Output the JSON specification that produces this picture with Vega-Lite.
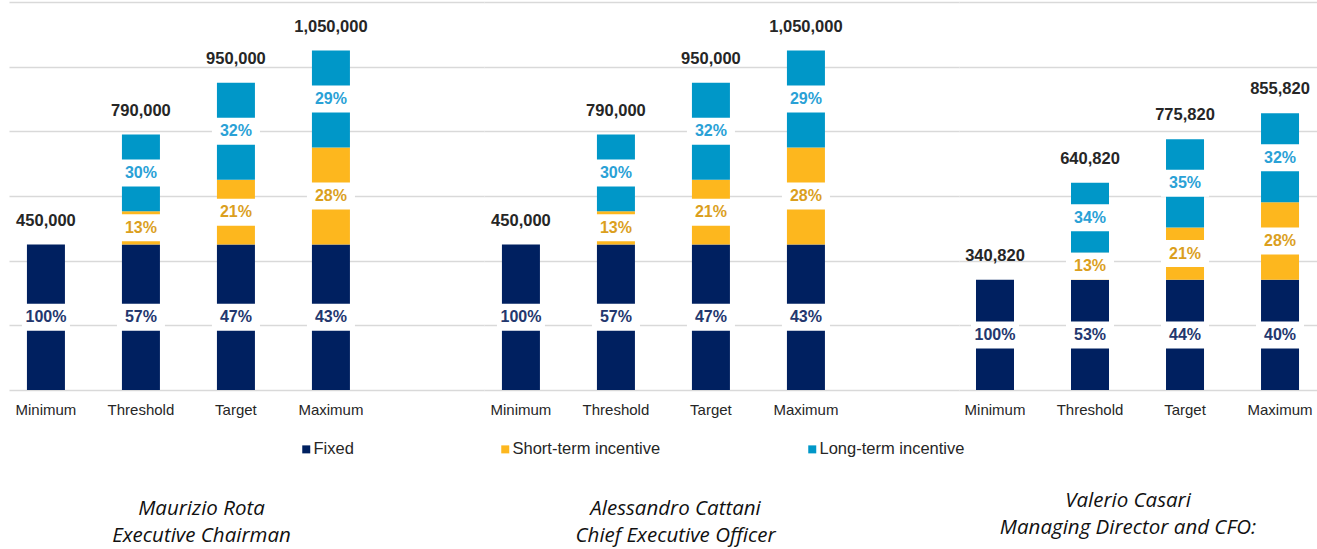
{
  "$schema": "https://vega.github.io/schema/vega-lite/v6.json",
  "background": "white",
  "padding": {"left": 9, "top": 2, "right": 0, "bottom": 0},
  "spacing": 0,
  "datasets": {
    "pay": [
      {"person": "Maurizio Rota", "level": "Minimum", "component": "Fixed", "rank": 1, "value": 450000, "pct": 1.00},
      {"person": "Maurizio Rota", "level": "Threshold", "component": "Fixed", "rank": 1, "value": 450000, "pct": 0.57},
      {"person": "Maurizio Rota", "level": "Threshold", "component": "Short-term incentive", "rank": 2, "value": 103000, "pct": 0.13},
      {"person": "Maurizio Rota", "level": "Threshold", "component": "Long-term incentive", "rank": 3, "value": 237000, "pct": 0.30},
      {"person": "Maurizio Rota", "level": "Target", "component": "Fixed", "rank": 1, "value": 450000, "pct": 0.47},
      {"person": "Maurizio Rota", "level": "Target", "component": "Short-term incentive", "rank": 2, "value": 200000, "pct": 0.21},
      {"person": "Maurizio Rota", "level": "Target", "component": "Long-term incentive", "rank": 3, "value": 300000, "pct": 0.32},
      {"person": "Maurizio Rota", "level": "Maximum", "component": "Fixed", "rank": 1, "value": 450000, "pct": 0.43},
      {"person": "Maurizio Rota", "level": "Maximum", "component": "Short-term incentive", "rank": 2, "value": 300000, "pct": 0.28},
      {"person": "Maurizio Rota", "level": "Maximum", "component": "Long-term incentive", "rank": 3, "value": 300000, "pct": 0.29},
      {"person": "Alessandro Cattani", "level": "Minimum", "component": "Fixed", "rank": 1, "value": 450000, "pct": 1.00},
      {"person": "Alessandro Cattani", "level": "Threshold", "component": "Fixed", "rank": 1, "value": 450000, "pct": 0.57},
      {"person": "Alessandro Cattani", "level": "Threshold", "component": "Short-term incentive", "rank": 2, "value": 103000, "pct": 0.13},
      {"person": "Alessandro Cattani", "level": "Threshold", "component": "Long-term incentive", "rank": 3, "value": 237000, "pct": 0.30},
      {"person": "Alessandro Cattani", "level": "Target", "component": "Fixed", "rank": 1, "value": 450000, "pct": 0.47},
      {"person": "Alessandro Cattani", "level": "Target", "component": "Short-term incentive", "rank": 2, "value": 200000, "pct": 0.21},
      {"person": "Alessandro Cattani", "level": "Target", "component": "Long-term incentive", "rank": 3, "value": 300000, "pct": 0.32},
      {"person": "Alessandro Cattani", "level": "Maximum", "component": "Fixed", "rank": 1, "value": 450000, "pct": 0.43},
      {"person": "Alessandro Cattani", "level": "Maximum", "component": "Short-term incentive", "rank": 2, "value": 300000, "pct": 0.28},
      {"person": "Alessandro Cattani", "level": "Maximum", "component": "Long-term incentive", "rank": 3, "value": 300000, "pct": 0.29},
      {"person": "Valerio Casari", "level": "Minimum", "component": "Fixed", "rank": 1, "value": 340820, "pct": 1.00},
      {"person": "Valerio Casari", "level": "Threshold", "component": "Fixed", "rank": 1, "value": 340820, "pct": 0.53},
      {"person": "Valerio Casari", "level": "Threshold", "component": "Short-term incentive", "rank": 2, "value": 84000, "pct": 0.13},
      {"person": "Valerio Casari", "level": "Threshold", "component": "Long-term incentive", "rank": 3, "value": 216000, "pct": 0.34},
      {"person": "Valerio Casari", "level": "Target", "component": "Fixed", "rank": 1, "value": 340820, "pct": 0.44},
      {"person": "Valerio Casari", "level": "Target", "component": "Short-term incentive", "rank": 2, "value": 162000, "pct": 0.21},
      {"person": "Valerio Casari", "level": "Target", "component": "Long-term incentive", "rank": 3, "value": 273000, "pct": 0.35},
      {"person": "Valerio Casari", "level": "Maximum", "component": "Fixed", "rank": 1, "value": 340820, "pct": 0.40},
      {"person": "Valerio Casari", "level": "Maximum", "component": "Short-term incentive", "rank": 2, "value": 240000, "pct": 0.28},
      {"person": "Valerio Casari", "level": "Maximum", "component": "Long-term incentive", "rank": 3, "value": 275000, "pct": 0.32}
    ]
  },
  "data": {"name": "pay"},
  "resolve": {"scale": {"color": "shared"}, "legend": {"color": "shared"}},
  "hconcat": [
    {
      "width": 475,
      "height": 388,
      "title": {"text": ["Maurizio Rota", "Executive Chairman"], "orient": "bottom", "anchor": "middle", "offset": 82, "dx": -45},
      "transform": [{"filter": "datum.person === 'Maurizio Rota'"}],
      "encoding": {
        "x": {"field": "level", "type": "nominal", "sort": ["Minimum", "Threshold", "Target", "Maximum"], "title": null,
              "scale": {"paddingInner": 0.6, "paddingOuter": 0.8, "align": 0.118}}
      },
      "layer": [
        {
          "mark": {"type": "bar"},
          "encoding": {
            "y": {"field": "value", "type": "quantitative", "stack": "zero", "title": null, "scale": {"domain": [0, 1200000], "nice": false},
                  "axis": {"values": [0, 200000, 400000, 600000, 800000, 1000000, 1200000]}},
            "color": {"field": "component", "type": "nominal",
                      "scale": {"domain": ["Fixed", "Short-term incentive", "Long-term incentive"], "range": ["#002060", "#FDB71E", "#0097C8"]},
                      "legend": {"title": null, "orient": "none", "legendX": 289, "legendY": 439, "direction": "horizontal", "columnPadding": 143, "symbolType": "square", "symbolSize": 64, "symbolStrokeWidth": 0, "labelFont": "Liberation Sans", "labelFontSize": 16.5, "labelColor": "#262626", "labelOffset": -1}},
            "order": {"field": "rank", "type": "quantitative", "sort": "ascending"}
          }
        },
        {
          "transform": [
            {"stack": "value", "groupby": ["level"], "sort": [{"field": "rank", "order": "ascending"}], "as": ["v0", "v1"]},
            {"fold": ["v0", "v1"], "as": ["edge", "v"]}
          ],
          "mark": {"type": "tick", "color": "white", "thickness": 27, "size": 48, "opacity": 1},
          "encoding": {
            "y": {"field": "v", "aggregate": "mean", "type": "quantitative", "title": null, "scale": {"domain": [0, 1200000], "nice": false},
                  "axis": {"values": [0, 200000, 400000, 600000, 800000, 1000000, 1200000]}},
            "detail": {"field": "component"}
          }
        },
        {
          "transform": [
            {"stack": "value", "groupby": ["level"], "sort": [{"field": "rank", "order": "ascending"}], "as": ["v0", "v1"]},
            {"fold": ["v0", "v1"], "as": ["edge", "v"]}
          ],
          "mark": {"type": "text", "font": "Liberation Sans", "fontWeight": "bold", "fontSize": 16, "baseline": "middle"},
          "encoding": {
            "y": {"field": "v", "aggregate": "mean", "type": "quantitative", "title": null, "scale": {"domain": [0, 1200000], "nice": false},
                  "axis": {"values": [0, 200000, 400000, 600000, 800000, 1000000, 1200000]}},
            "detail": {"field": "component"},
            "text": {"field": "pct", "type": "quantitative", "format": ".0%"},
            "color": {"condition": [{"test": "datum.component === 'Fixed'", "value": "#23376E"}, {"test": "datum.component === 'Short-term incentive'", "value": "#DB9F1E"}], "value": "#2AA1D6"}
          }
        },
        {
          "mark": {"type": "text", "font": "Liberation Sans", "fontWeight": "bold", "fontSize": 16.5, "baseline": "middle", "dy": -24, "color": "#262626"},
          "encoding": {
            "y": {"field": "value", "aggregate": "sum", "type": "quantitative", "title": null, "scale": {"domain": [0, 1200000], "nice": false},
                  "axis": {"values": [0, 200000, 400000, 600000, 800000, 1000000, 1200000]}},
            "text": {"field": "value", "aggregate": "sum", "type": "quantitative", "format": ","}
          }
        }
      ]
    },
    {
      "width": 475,
      "height": 388,
      "title": {"text": ["Alessandro Cattani", "Chief Executive Officer"], "orient": "bottom", "anchor": "middle", "offset": 82, "dx": -46},
      "transform": [{"filter": "datum.person === 'Alessandro Cattani'"}],
      "encoding": {
        "x": {"field": "level", "type": "nominal", "sort": ["Minimum", "Threshold", "Target", "Maximum"], "title": null,
              "scale": {"paddingInner": 0.6, "paddingOuter": 0.8, "align": 0.118}}
      },
      "layer": [
        {
          "mark": {"type": "bar"},
          "encoding": {
            "y": {"field": "value", "type": "quantitative", "stack": "zero", "title": null, "scale": {"domain": [0, 1200000], "nice": false},
                  "axis": {"values": [0, 200000, 400000, 600000, 800000, 1000000, 1200000]}},
            "color": {"field": "component", "type": "nominal",
                      "scale": {"domain": ["Fixed", "Short-term incentive", "Long-term incentive"], "range": ["#002060", "#FDB71E", "#0097C8"]},
                      "legend": {"title": null, "orient": "none", "legendX": 289, "legendY": 439, "direction": "horizontal", "columnPadding": 143, "symbolType": "square", "symbolSize": 64, "symbolStrokeWidth": 0, "labelFont": "Liberation Sans", "labelFontSize": 16.5, "labelColor": "#262626", "labelOffset": -1}},
            "order": {"field": "rank", "type": "quantitative", "sort": "ascending"}
          }
        },
        {
          "transform": [
            {"stack": "value", "groupby": ["level"], "sort": [{"field": "rank", "order": "ascending"}], "as": ["v0", "v1"]},
            {"fold": ["v0", "v1"], "as": ["edge", "v"]}
          ],
          "mark": {"type": "tick", "color": "white", "thickness": 27, "size": 48, "opacity": 1},
          "encoding": {
            "y": {"field": "v", "aggregate": "mean", "type": "quantitative", "title": null, "scale": {"domain": [0, 1200000], "nice": false},
                  "axis": {"values": [0, 200000, 400000, 600000, 800000, 1000000, 1200000]}},
            "detail": {"field": "component"}
          }
        },
        {
          "transform": [
            {"stack": "value", "groupby": ["level"], "sort": [{"field": "rank", "order": "ascending"}], "as": ["v0", "v1"]},
            {"fold": ["v0", "v1"], "as": ["edge", "v"]}
          ],
          "mark": {"type": "text", "font": "Liberation Sans", "fontWeight": "bold", "fontSize": 16, "baseline": "middle"},
          "encoding": {
            "y": {"field": "v", "aggregate": "mean", "type": "quantitative", "title": null, "scale": {"domain": [0, 1200000], "nice": false},
                  "axis": {"values": [0, 200000, 400000, 600000, 800000, 1000000, 1200000]}},
            "detail": {"field": "component"},
            "text": {"field": "pct", "type": "quantitative", "format": ".0%"},
            "color": {"condition": [{"test": "datum.component === 'Fixed'", "value": "#23376E"}, {"test": "datum.component === 'Short-term incentive'", "value": "#DB9F1E"}], "value": "#2AA1D6"}
          }
        },
        {
          "mark": {"type": "text", "font": "Liberation Sans", "fontWeight": "bold", "fontSize": 16.5, "baseline": "middle", "dy": -24, "color": "#262626"},
          "encoding": {
            "y": {"field": "value", "aggregate": "sum", "type": "quantitative", "title": null, "scale": {"domain": [0, 1200000], "nice": false},
                  "axis": {"values": [0, 200000, 400000, 600000, 800000, 1000000, 1200000]}},
            "text": {"field": "value", "aggregate": "sum", "type": "quantitative", "format": ","}
          }
        }
      ]
    },
    {
      "width": 358,
      "height": 388,
      "title": {"text": ["Valerio Casari", "Managing Director and CFO:"], "orient": "bottom", "anchor": "middle", "offset": 74, "dx": -10},
      "transform": [{"filter": "datum.person === 'Valerio Casari'"}],
      "encoding": {
        "x": {"field": "level", "type": "nominal", "sort": ["Minimum", "Threshold", "Target", "Maximum"], "title": null,
              "scale": {"paddingInner": 0.6, "paddingOuter": 0.184, "align": 0.486}}
      },
      "layer": [
        {
          "mark": {"type": "bar"},
          "encoding": {
            "y": {"field": "value", "type": "quantitative", "stack": "zero", "title": null, "scale": {"domain": [0, 1200000], "nice": false},
                  "axis": {"values": [0, 200000, 400000, 600000, 800000, 1000000, 1200000]}},
            "color": {"field": "component", "type": "nominal",
                      "scale": {"domain": ["Fixed", "Short-term incentive", "Long-term incentive"], "range": ["#002060", "#FDB71E", "#0097C8"]},
                      "legend": {"title": null, "orient": "none", "legendX": 289, "legendY": 439, "direction": "horizontal", "columnPadding": 143, "symbolType": "square", "symbolSize": 64, "symbolStrokeWidth": 0, "labelFont": "Liberation Sans", "labelFontSize": 16.5, "labelColor": "#262626", "labelOffset": -1}},
            "order": {"field": "rank", "type": "quantitative", "sort": "ascending"}
          }
        },
        {
          "transform": [
            {"stack": "value", "groupby": ["level"], "sort": [{"field": "rank", "order": "ascending"}], "as": ["v0", "v1"]},
            {"fold": ["v0", "v1"], "as": ["edge", "v"]}
          ],
          "mark": {"type": "tick", "color": "white", "thickness": 27, "size": 48, "opacity": 1},
          "encoding": {
            "y": {"field": "v", "aggregate": "mean", "type": "quantitative", "title": null, "scale": {"domain": [0, 1200000], "nice": false},
                  "axis": {"values": [0, 200000, 400000, 600000, 800000, 1000000, 1200000]}},
            "detail": {"field": "component"}
          }
        },
        {
          "transform": [
            {"stack": "value", "groupby": ["level"], "sort": [{"field": "rank", "order": "ascending"}], "as": ["v0", "v1"]},
            {"fold": ["v0", "v1"], "as": ["edge", "v"]}
          ],
          "mark": {"type": "text", "font": "Liberation Sans", "fontWeight": "bold", "fontSize": 16, "baseline": "middle"},
          "encoding": {
            "y": {"field": "v", "aggregate": "mean", "type": "quantitative", "title": null, "scale": {"domain": [0, 1200000], "nice": false},
                  "axis": {"values": [0, 200000, 400000, 600000, 800000, 1000000, 1200000]}},
            "detail": {"field": "component"},
            "text": {"field": "pct", "type": "quantitative", "format": ".0%"},
            "color": {"condition": [{"test": "datum.component === 'Fixed'", "value": "#23376E"}, {"test": "datum.component === 'Short-term incentive'", "value": "#DB9F1E"}], "value": "#2AA1D6"}
          }
        },
        {
          "mark": {"type": "text", "font": "Liberation Sans", "fontWeight": "bold", "fontSize": 16.5, "baseline": "middle", "dy": -24, "color": "#262626"},
          "encoding": {
            "y": {"field": "value", "aggregate": "sum", "type": "quantitative", "title": null, "scale": {"domain": [0, 1200000], "nice": false},
                  "axis": {"values": [0, 200000, 400000, 600000, 800000, 1000000, 1200000]}},
            "text": {"field": "value", "aggregate": "sum", "type": "quantitative", "format": ","}
          }
        }
      ]
    }
  ],
  "config": {
    "view": {"stroke": null},
    "axisY": {"labels": false, "ticks": false, "domain": false, "grid": true, "gridColor": "#D9D9D9", "gridWidth": 1.3},
    "axisX": {"labelFont": "Liberation Sans", "labelFontSize": 15, "labelColor": "#262626", "labelPadding": 12, "labelAngle": 0, "ticks": false, "domain": false, "grid": false},
    "title": {"font": "Open Sans", "fontStyle": "italic", "fontWeight": "normal", "fontSize": 20.5, "lineHeight": 27, "color": "#111111", "baseline": "top"}
  }
}
